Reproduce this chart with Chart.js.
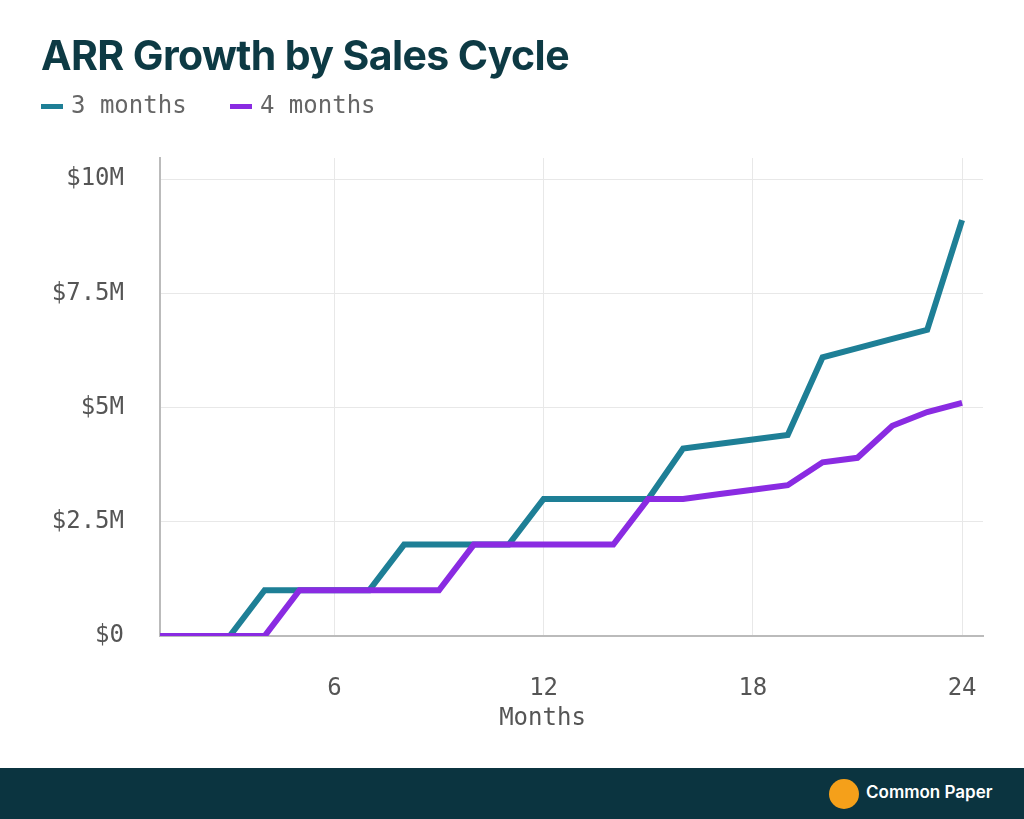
<!DOCTYPE html>
<html><head><meta charset="utf-8">
<script src="https://cdn.jsdelivr.net/npm/chart.js@4"></script>
<style>
body{margin:0;width:1024px;height:819px;background:#fff;position:relative;overflow:hidden;font-family:Inter,sans-serif}
#t{position:absolute;left:41px;top:30px;font:bold 41px Inter;color:#0d3a44;letter-spacing:-0.6px}
#lg{position:absolute;left:41px;top:91px;font:24px "DejaVu Sans Mono";color:#666}
#lg span.k{display:inline-block;width:22px;height:5px;vertical-align:middle;margin-right:8px}
#mx{position:absolute;left:0;width:1085px;text-align:center;top:703px;font:24px "DejaVu Sans Mono";color:#555}
#ft{position:absolute;left:0;top:768px;width:1024px;height:51px;background:#0b3440}
#ft .lo{position:absolute;left:829px;top:11px;width:30px;height:30px;border-radius:50%;background:#f5a01a}
#ft .tx{position:absolute;left:866px;top:14px;color:#fff;font:600 17px Inter}
#c{position:absolute;left:0;top:0}
</style></head><body>
<canvas id="c" width="1024" height="768"></canvas>
<div id="t">ARR Growth by Sales Cycle</div>
<div id="lg"><span class="k" style="background:#1e7f96"></span>3 months&nbsp;&nbsp;&nbsp;<span class="k" style="background:#8a2be2"></span>4 months</div>
<div id="mx">Months</div>
<div id="ft"><div class="lo"></div><div class="tx">Common Paper</div></div>
<script>
const months=[1,2,3,4,5,6,7,8,9,10,11,12,13,14,15,16,17,18,19,20,21,22,23,24];
const threeMonths=[0,0,0,1,1,1,1,2,2,2,2,3,3,3,3,4.1,4.2,4.3,4.4,6.1,6.3,6.5,6.7,9.1];
const fourMonths=[0,0,0,0,1,1,1,1,1,2,2,2,2,2,3,3,3.1,3.2,3.3,3.8,3.9,4.6,4.9,5.1];
const xTicks=[6,12,18,24];
const yTicks=[0,2.5,5,7.5,10];
const yLabels=['$0','$2.5M','$5M','$7.5M','$10M'];
const mk=(d)=>months.map((m,i)=>({x:m,y:d[i]}));
new Chart(document.getElementById('c'),{type:'line',
data:{datasets:[
{data:mk(threeMonths),borderColor:'#1e7f96',borderWidth:6,pointRadius:0,tension:0,order:2},
{data:mk(fourMonths),borderColor:'#8a2be2',borderWidth:6,pointRadius:0,tension:0,order:1}]},
options:{responsive:false,animation:false,plugins:{legend:{display:false},tooltip:{enabled:false}},
layout:{padding:{top:158,right:41,left:0,bottom:0}},
scales:{
x:{type:'linear',min:1,max:24.6,afterFit:s=>{s.height=132},afterBuildTicks:s=>{s.ticks=xTicks.map(v=>({value:v}))},
 grid:{color:'#e8e8e8',drawTicks:false,lineWidth:1},border:{color:'#bbb',width:2},
 ticks:{padding:38,color:'#555',font:{family:'DejaVu Sans Mono',size:24}}},
y:{min:0,max:10.46,afterFit:s=>{s.width=160},afterBuildTicks:s=>{s.ticks=yTicks.map(v=>({value:v}))},
 grid:{color:'#e8e8e8',drawTicks:false,lineWidth:1},border:{color:'#bbb',width:2},
 ticks:{padding:36,color:'#555',font:{family:'DejaVu Sans Mono',size:24},callback:v=>yLabels[yTicks.indexOf(v)]}}
}}});
</script></body></html>
